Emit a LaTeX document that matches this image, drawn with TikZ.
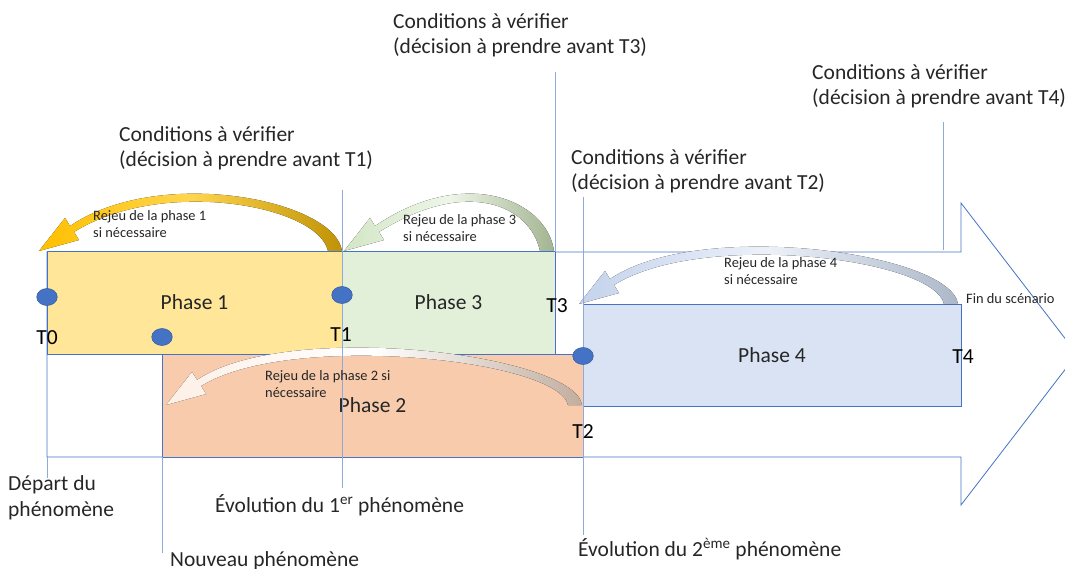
\documentclass[tikz,border=0pt]{standalone}
\usepackage{fontspec}
\setmainfont{Carlito}
\usepackage{xcolor}
\usetikzlibrary{shapes.geometric}

\definecolor{bordure}{HTML}{4472C4}
\definecolor{trait}{HTML}{8EA9DB}
\definecolor{texte}{HTML}{262626}
\definecolor{jaune}{HTML}{FFE699}
\definecolor{vert}{HTML}{E2F0D9}
\definecolor{saumon}{HTML}{F8CBAD}
\definecolor{bleuclair}{HTML}{DAE3F3}
\definecolor{orclair}{HTML}{FFC000}
\definecolor{ormilieu}{HTML}{FFD54F}
\definecolor{orfonce}{HTML}{C09306}
\definecolor{vertclair}{HTML}{D3E6C5}
\definecolor{vertfonce}{HTML}{A3B491}
\definecolor{bleufleche}{HTML}{C4D3EC}
\definecolor{grisbleu}{HTML}{ACB8C9}
\definecolor{grisbrun}{HTML}{C2AE9F}

% fleche courbe de rejeu : x droite, x pointe, y base, style
\newcommand{\rejeu}[4]{%
  \fill[#4] (#1,#3) .. controls ({#1-7},{#3-51}) and ({#2+122},{#3-86}) .. ({#2+32},{#3-25})
    -- ({#2+27},{#3-33}) -- ({#2+1},#3) -- ({#2+41},{#3-11}) -- ({#2+36},{#3-19})
    .. controls ({#2+124},{#3-74}) and ({#1-24},{#3-46}) .. ({#1-14},#3) -- cycle;
}

\begin{document}
\begin{tikzpicture}[x=1pt, y=-1pt,
    grand/.style={font=\fontsize{21.5}{25.5}\selectfont, text=texte},
    petit/.style={font=\fontsize{14.4}{17}\selectfont, text=texte},
    phase/.style={draw=bordure, line width=0.8pt, minimum height=103pt, outer sep=0pt, grand},
    repere/.style={draw=trait, line width=0.7pt},
    jalon/.style={fill=bordure, draw=bordure!80!black, line width=0.5pt},
    rejeujaune/.style={left color=orclair, right color=orfonce, middle color=ormilieu},
    rejeuvert/.style={left color=vertclair, right color=vertfonce, middle color=vert!60!white},
    rejeubleu/.style={left color=bleufleche, right color=grisbleu, middle color=bleuclair!50!white},
    rejeusaumon/.style={left color=saumon!30!white, right color=grisbrun, middle color=white}]

  \useasboundingbox (0,0) rectangle (1065,569);
  \clip (0,0) rectangle (1065,569);

  % Fleche du scenario
  \draw[fill=white, draw=bordure, line width=0.8pt] (47,252) -- (961,252) -- (961,203) -- (1077,354)
    -- (961,505) -- (961,457) -- (47,457) -- cycle;

  % Phases
  \node[phase, fill=jaune, minimum width=295pt] (phase1) at (194.5,302.5) {Phase 1};
  \node[phase, fill=vert, minimum width=213pt] (phase3) at (448.5,302.5) {Phase 3};
  \node[phase, fill=saumon, minimum width=421pt] (phase2) at (372.5,405.5) {Phase 2};
  \node[phase, fill=bleuclair, minimum width=378pt, minimum height=102pt] (phase4) at (772,355) {Phase 4};

  % Rejeux
  \rejeu{342}{38}{251}{rejeujaune}
  \rejeu{554}{343}{251}{rejeuvert}
  \rejeu{958}{578}{304}{rejeubleu}
  \rejeu{582}{165}{405}{rejeusaumon}

  % Reperes
  \foreach \nom/\x/\haut/\bas in {depart/47/457/478, nouveau/162/457/553, evolun/342/190/488,
      cdtrois/555/72/252, cddeux/583/197/535, cdquatre/943/122/250}
  {
    \coordinate (\nom h) at (\x,\haut);
    \coordinate (\nom b) at (\x,\bas);
    \draw[repere] (\nom h) -- (\nom b);
  }

  % Jalons
  \foreach \x/\y in {47/297, 162/337, 342/295, 583/356}
    \filldraw[jalon] (\x,\y) ellipse (10.3pt and 8.5pt);

  % Instants
  \foreach \n/\x/\y in {0/47/338, 1/341/335, 3/557/306, 2/583/432, 4/963/357}
    \node[grand, inner sep=0pt, text=black] (t\n) at (\x,\y) {T\n};

  % Conditions
  \foreach \n/\x/\y in {1/119/167, 3/393/54, 2/571/190, 4/812/105}
    \node[grand, anchor=base west, align=left, inner sep=0pt] (cond\n) at (\x,\y)
      {Conditions à vérifier\\(décision à prendre avant T\n)};

  % Textes des rejeux
  \node[petit, anchor=base west, align=left, inner sep=0pt] (txtun) at (93,238) {Rejeu de la phase 1\\si nécessaire};
  \node[petit, anchor=base west, align=left, inner sep=0pt] (txttrois) at (403,242) {Rejeu de la phase 3\\si nécessaire};
  \node[petit, anchor=base west, align=left, inner sep=0pt] (txtquatre) at (724,284) {Rejeu de la phase 4\\si nécessaire};
  \node[petit, anchor=base west, align=left, inner sep=0pt] (txtdeux) at (265,397) {Rejeu de la phase 2 si\\nécessaire};
  \node[petit, anchor=base west, inner sep=0pt] (fin) at (966,303) {Fin du scénario};

  % Phenomenes
  \node[grand, anchor=base west, align=left, inner sep=0pt] (depart) at (8,516) {Départ du\\phénomène};
  \node[grand, anchor=base west, inner sep=0pt] (evolun) at (215,512) {Évolution du 1\textsuperscript{er} phénomène};
  \node[grand, anchor=base west, inner sep=0pt] (nouveau) at (170,566) {Nouveau phénomène};
  \node[grand, anchor=base west, inner sep=0pt] (evoldeux) at (578,556) {Évolution du 2\textsuperscript{ème} phénomène};
\end{tikzpicture}
\end{document}
